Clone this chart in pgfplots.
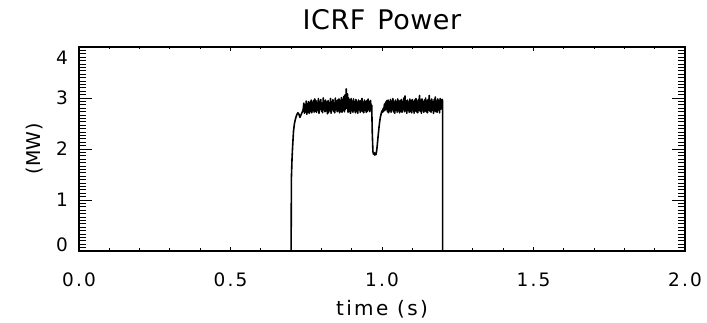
\documentclass[border=0pt]{standalone}
\usepackage{pgfplots}
\pgfplotsset{compat=1.18}
\usepackage{fontspec}
\setmainfont{DejaVu Sans}[LetterSpace=12]
\newfontfamily\titlefont{DejaVu Sans}[LetterSpace=2]
\begin{document}
\begin{tikzpicture}
\pgfplotsset{
  base/.style={
    width=606pt, height=204pt, scale only axis,
    xmin=0, xmax=2, ymin=0, ymax=4,
    axis line style={line width=1.2pt},
    tick style={line width=0.9pt, black},
    tick pos=both, tick align=inside,
    /pgf/number format/assume math mode=true,
    ticklabel style={font=\fontsize{18.5}{18.5}\selectfont, inner sep=0pt},
  }
}
\begin{axis}[base, name=ax,
  xtick={0,0.5,1,1.5,2}, minor x tick num=4,
  ytick=\empty,
  major tick length=4pt, minor tick length=2.5pt,
  xticklabel style={/pgf/number format/.cd, fixed, fixed zerofill, precision=1},
  xticklabel shift=22pt,
  title={ICRF\hspace{12pt}Power},
  title style={font=\titlefont\fontsize{27}{27}\selectfont, at={(axis description cs:0.5,1.0588)}, anchor=base, inner sep=0pt},
  xlabel={time (s)},
  xlabel style={font=\fontsize{20}{20}\selectfont, at={(axis description cs:0.5,-0.3186)}, anchor=base, inner sep=0pt},
  ylabel={(MW)},
  ylabel style={font=\titlefont\fontsize{19}{19}\selectfont, at={(axis description cs:-0.0630,0.5)}, anchor=base, inner sep=0pt},
]
\addplot[black, line width=1.6pt, line join=round] coordinates {
(0,0) (0.699,0) (0.700,0) (0.701,1.43) (0.703,1.80) (0.705,2.05) (0.708,2.35) (0.711,2.50)
(0.714,2.58) (0.718,2.66) (0.722,2.71) (0.726,2.68) (0.729,2.62) (0.732,2.66) (0.735,2.70)
(0.738,2.74) (0.740,2.78)
(0.742,2.90) (0.744,2.70) (0.746,2.87) (0.748,2.73) (0.750,2.94) (0.752,2.68) (0.754,2.89)
(0.756,2.72) (0.758,2.93) (0.760,2.70) (0.762,2.91) (0.764,2.74) (0.766,2.96) (0.768,2.71)
(0.770,2.92) (0.772,2.75) (0.774,2.95) (0.776,2.72) (0.778,2.98) (0.780,2.74)
(0.782,2.95) (0.784,2.72) (0.786,2.91) (0.788,2.76) (0.790,2.99) (0.792,2.70) (0.794,2.93)
(0.796,2.78) (0.798,2.97) (0.800,2.74) (0.802,2.90) (0.804,2.71) (0.806,3.00) (0.808,2.77)
(0.810,2.94) (0.812,2.73) (0.814,2.96) (0.816,2.75) (0.818,2.92) (0.820,2.69)
(0.822,2.95) (0.824,2.72) (0.826,2.91) (0.828,2.76) (0.830,2.99) (0.832,2.70) (0.834,2.93)
(0.836,2.78) (0.838,2.97) (0.840,2.74) (0.842,2.90) (0.844,2.71) (0.846,3.00) (0.848,2.77)
(0.850,2.94) (0.852,2.73) (0.854,2.96) (0.856,2.75) (0.858,2.98) (0.860,2.71)
(0.862,2.95) (0.864,2.74) (0.866,3.01) (0.868,2.72) (0.870,2.97) (0.872,2.76) (0.874,3.03)
(0.876,2.73) (0.878,3.06) (0.880,2.78) (0.882,3.18) (0.884,2.80) (0.886,3.08) (0.888,2.72)
(0.890,3.00) (0.892,2.74) (0.894,2.96) (0.896,2.70) (0.898,2.99) (0.900,2.75)
(0.902,2.94) (0.904,2.72) (0.906,2.98) (0.908,2.76) (0.910,2.93) (0.912,2.71) (0.914,2.97)
(0.916,2.74) (0.918,2.92) (0.920,2.70) (0.922,2.96) (0.924,2.77) (0.926,2.94) (0.928,2.72)
(0.930,2.95) (0.932,2.75) (0.934,2.99) (0.936,2.73) (0.938,2.92) (0.940,2.71)
(0.942,2.96) (0.944,2.76) (0.946,2.93) (0.948,2.72) (0.950,2.95) (0.952,2.74) (0.954,2.98)
(0.956,2.77) (0.958,2.93) (0.960,2.73) (0.962,2.95) (0.964,2.80) (0.966,2.86)
(0.968,2.30) (0.970,1.95) (0.972,1.90) (0.974,1.93) (0.976,1.88) (0.978,1.92)
(0.980,1.89) (0.982,1.95) (0.984,2.05) (0.986,2.18) (0.988,2.30) (0.990,2.42) (0.992,2.52)
(0.994,2.60) (0.996,2.66) (0.998,2.71) (1.000,2.75) (1.002,2.72)
(1.004,2.80) (1.006,2.74) (1.008,2.88) (1.010,2.76) (1.012,2.92) (1.014,2.78) (1.016,2.95)
(1.018,2.73) (1.020,2.96) (1.022,2.71) (1.024,2.93) (1.026,2.75) (1.028,2.97) (1.030,2.72)
(1.032,2.94) (1.034,2.77) (1.036,2.99)
(1.038,2.73) (1.040,2.92) (1.042,2.70) (1.044,2.96) (1.046,2.76) (1.048,2.93) (1.050,2.72)
(1.052,2.98) (1.054,2.75) (1.056,2.94)
(1.058,2.71) (1.060,2.95) (1.062,2.74) (1.064,2.97) (1.066,2.72) (1.068,2.93) (1.070,2.77)
(1.072,3.00) (1.074,2.73) (1.076,3.04)
(1.078,2.75) (1.080,2.94) (1.082,2.70) (1.084,2.96) (1.086,2.76) (1.088,2.92) (1.090,2.72)
(1.092,2.98) (1.094,2.74) (1.096,2.95)
(1.098,2.71) (1.100,2.97) (1.102,2.77) (1.104,2.93) (1.106,2.70) (1.108,2.96) (1.110,2.75)
(1.112,2.99) (1.114,2.73) (1.116,2.94)
(1.118,2.71) (1.120,2.97) (1.122,2.76) (1.124,3.05) (1.126,2.74) (1.128,2.95) (1.130,2.70)
(1.132,2.98) (1.134,2.77) (1.136,2.93)
(1.138,2.72) (1.140,2.96) (1.142,2.75) (1.144,3.00) (1.146,2.73) (1.148,2.94) (1.150,2.71)
(1.152,2.97) (1.154,2.76) (1.156,3.05)
(1.158,2.74) (1.160,2.95) (1.162,2.72) (1.164,2.98) (1.166,2.76) (1.168,2.93) (1.170,2.70)
(1.172,2.97) (1.174,2.75) (1.176,3.02)
(1.178,2.73) (1.180,2.94) (1.182,2.72) (1.184,2.98) (1.186,2.77) (1.188,2.95) (1.190,2.71)
(1.192,2.99) (1.194,2.78) (1.196,2.96)
(1.198,2.82) (1.199,2.97) (1.200,2.93) (1.200,0) (2.0,0)
};
\end{axis}
\begin{axis}[base,
  xtick=\empty,
  ytick={0,1,2,3,4}, minor y tick num=14,
  yticklabels={\raisebox{-0.5pt}[0pt][0pt]{0},1,2,3,\raisebox{-17.5pt}[0pt][0pt]{4}},
  major tick length=13pt, minor tick length=7pt,
  yticklabel shift=11pt,
]
\end{axis}
\pgfresetboundingbox
\path (ax.south west) ++(-79pt,-72pt) rectangle ++(707pt,323pt);
\end{tikzpicture}
\end{document}
